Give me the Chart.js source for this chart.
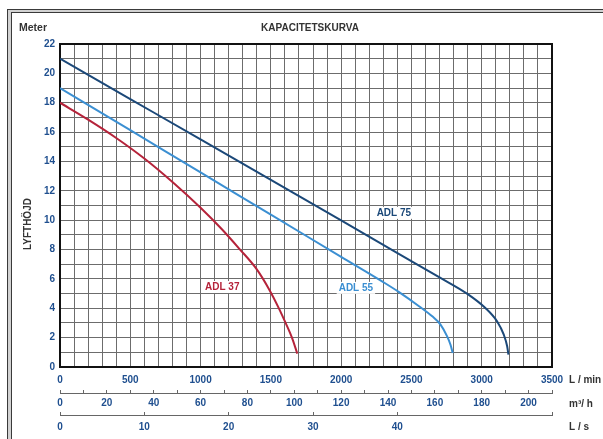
<!DOCTYPE html>
<html>
<head>
<meta charset="utf-8">
<script src="https://cdn.jsdelivr.net/npm/chart.js@4.4.1/dist/chart.umd.min.js"></script>
<style>
  html, body { margin: 0; padding: 0; background: #fff; overflow: hidden; }
  #wrap { width: 603px; height: 439px; position: relative; }
</style>
</head>
<body>
<div id="wrap"><canvas id="kurva"></canvas></div>
<script>
// flöde (L/min) och lyfthöjd (m) avlästa ur kurvbladet
var flowAdl75 = [0, 500, 1000, 1500, 2000, 2413, 2697, 2898, 3028, 3110, 3157, 3181, 3190];
var headAdl75 = [21, 18.25, 15.5, 12.74, 9.98, 7.69, 6.12, 4.98, 4.0, 3.1, 2.2, 1.41, 0.84];

var flowAdl55 = [0, 500, 1000, 1500, 2000, 2300, 2412, 2554, 2648, 2707, 2754, 2778, 2794];
var headAdl55 = [19, 16.13, 13.25, 10.38, 7.5, 5.78, 5.1, 4.14, 3.45, 2.89, 2.09, 1.52, 0.95];

var flowAdl37 = [0, 200, 400, 600, 800, 1000, 1150, 1276, 1400, 1490, 1558, 1605, 1652, 1688];
var headAdl37 = [18, 16.85, 15.6, 14.2, 12.6, 10.85, 9.4, 8.05, 6.65, 5.25, 3.98, 3.0, 1.95, 0.91];

var curveNames = ['ADL 75', 'ADL 55', 'ADL 37'];
var curveColors = ['#1b4878', '#3b8fd2', '#b5233a'];
// var etikett sitter (L/min, m)
var nameFlow = [2375, 2105, 1154];
var nameHead = [10.5, 5.39, 5.45];

var unitNames = ['L / min', 'm\u00b3/ h', 'L / s'];
var maxFlow = 3500;           // L/min
var maxHead = 22;             // m

var blue = '#1f4f8f';
var font = 'Liberation Sans, Arial, sans-serif';

function pts(xs, ys) {
  return xs.map(function (x, i) { return { x: x, y: ys[i] }; });
}

var paper = {
  id: 'paper',
  beforeDraw: function (chart) {
    var c = chart.ctx;
    c.save();
    c.fillStyle = '#fff';
    c.fillRect(0, 0, chart.width, chart.height);
    c.strokeStyle = '#d2d2d2';
    c.lineWidth = 3;
    c.strokeRect(9.5, 11, 610, 470);
    c.strokeStyle = '#3a3a3a';
    c.lineWidth = 1;
    c.strokeRect(7.5, 9.5, 620, 480);
    c.strokeRect(11.5, 12.5, 620, 480);
    c.restore();
  },
  beforeDatasetsDraw: function (chart) {
    var a = chart.chartArea, c = chart.ctx;
    c.save();
    c.strokeStyle = '#111';
    c.lineWidth = 2;
    c.strokeRect(a.left, a.top, a.right - a.left, a.bottom - a.top);
    c.restore();
  },
  afterDatasetsDraw: function (chart) {
    var c = chart.ctx, sx = chart.scales.x, sy = chart.scales.y;
    c.save();
    c.font = 'bold 10px ' + font;
    c.textAlign = 'center';
    c.textBaseline = 'middle';
    curveNames.forEach(function (n, i) {
      var px = sx.getPixelForValue(nameFlow[i]);
      var py = sy.getPixelForValue(nameHead[i]);
      var w = c.measureText(n).width;
      c.fillStyle = '#fff';
      c.fillRect(px - w / 2 - 2, py - 6, w + 4, 12);
      c.fillStyle = curveColors[i];
      c.fillText(n, px, py);
    });
    c.restore();
  },
  afterDraw: function (chart) {
    var c = chart.ctx, a = chart.chartArea;
    c.save();
    c.fillStyle = '#333';
    c.textBaseline = 'middle';
    c.font = 'bold 10.5px ' + font;
    c.textAlign = 'left';
    c.fillText('Meter', 19, 28.5);
    c.font = 'bold 10px ' + font;
    c.textAlign = 'center';
    c.fillText('KAPACITETSKURVA', 310, 28.5);
    c.save();
    c.translate(28, 224);
    c.rotate(-Math.PI / 2);
    c.fillText('LYFTH\u00d6JD', 0, 0);
    c.restore();
    c.textAlign = 'left';
    ['x', 'x2', 'x3'].forEach(function (id, i) {
      var s = chart.scales[id];
      c.fillText(unitNames[i], a.right + 17, (s.top + s.bottom) / 2);
    });
    c.restore();
  }
};

function fixHeight(h) {
  return function (s) { s.height = h; };
}

var tickFont = { family: font, size: 10, weight: 'bold' };

var kurva = new Chart(document.getElementById('kurva'), {
  type: 'line',
  data: {
    datasets: [{
      label: curveNames[0],
      data: pts(flowAdl75, headAdl75),
      borderColor: curveColors[0],
      borderWidth: 2,
      pointRadius: 0,
      fill: false,
      cubicInterpolationMode: 'monotone'
    }, {
      label: curveNames[1],
      data: pts(flowAdl55, headAdl55),
      borderColor: curveColors[1],
      borderWidth: 2,
      pointRadius: 0,
      fill: false,
      cubicInterpolationMode: 'monotone'
    }, {
      label: curveNames[2],
      data: pts(flowAdl37, headAdl37),
      borderColor: curveColors[2],
      borderWidth: 2,
      pointRadius: 0,
      fill: false,
      cubicInterpolationMode: 'monotone'
    }]
  },
  options: {
    responsive: true,
    maintainAspectRatio: false,
    animation: false,
    layout: { padding: { left: 0, top: 44, right: 51, bottom: 0 } },
    plugins: {
      legend: { display: false },
      tooltip: { enabled: false },
      title: { display: false }
    },
    scales: {
      x: {
        type: 'linear',
        position: 'bottom',
        weight: 0,
        min: 0,
        max: maxFlow,
        afterFit: fixHeight(26),
        border: { display: false },
        grid: { color: '#6c6c6c', lineWidth: 1, drawTicks: false },
        ticks: {
          stepSize: 100,
          autoSkip: false,
          maxRotation: 0,
          padding: 7,
          color: blue,
          font: tickFont,
          callback: function (v) { return v % 500 === 0 ? v : ''; }
        }
      },
      x2: {
        type: 'linear',
        position: 'bottom',
        weight: 1,
        min: 0,
        max: maxFlow * 60 / 1000,
        afterFit: fixHeight(22),
        border: { display: true, color: '#666', width: 1 },
        grid: { drawOnChartArea: false, drawTicks: true, tickLength: -3, color: '#666' },
        ticks: {
          stepSize: 10,
          autoSkip: false,
          maxRotation: 0,
          padding: 7,
          color: blue,
          font: tickFont,
          callback: function (v) { return v % 20 === 0 ? v : ''; }
        }
      },
      x3: {
        type: 'linear',
        position: 'bottom',
        weight: 2,
        min: 0,
        max: maxFlow / 60,
        afterFit: fixHeight(24),
        border: { display: true, color: '#666', width: 1 },
        grid: { drawOnChartArea: false, drawTicks: true, tickLength: -3, color: '#666' },
        ticks: {
          stepSize: 10,
          autoSkip: false,
          maxRotation: 0,
          padding: 9,
          color: blue,
          font: tickFont,
          callback: function (v) { return v % 10 === 0 ? v : ''; }
        }
      },
      y: {
        type: 'linear',
        position: 'left',
        min: 0,
        max: maxHead,
        afterFit: function (s) { s.width = 60; },
        border: { display: false },
        grid: { color: '#6c6c6c', lineWidth: 1, drawTicks: false },
        ticks: {
          stepSize: 1,
          autoSkip: false,
          padding: 5,
          color: blue,
          font: tickFont,
          callback: function (v) { return v % 2 === 0 ? v : ''; }
        }
      }
    }
  },
  plugins: [paper]
});
</script>
</body>
</html>
